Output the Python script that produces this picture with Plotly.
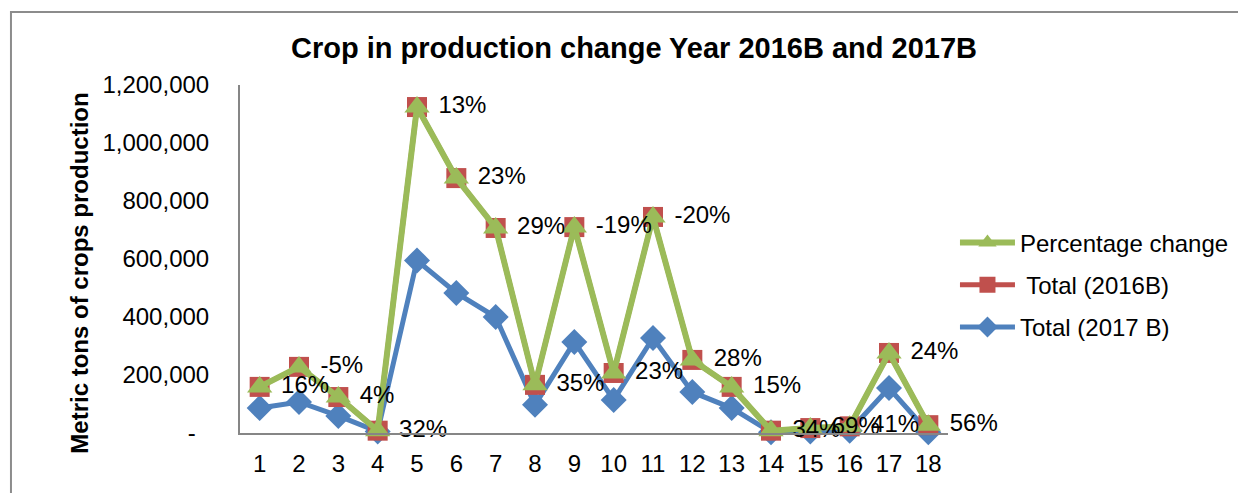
import numpy as np
import plotly.graph_objects as go

categories = [str(i) for i in range(1, 19)]
total_2017 = [86000, 107000, 59000, 5000, 595000, 483000, 400000, 97000, 314000,
              114000, 328000, 141000, 86000, 3000, 5000, 8000, 155000, 3000]
total_2016 = [73000, 121000, 65000, 3000, 529000, 396000, 307000, 69000, 396000,
              93000, 417000, 111000, 73000, 5000, 12000, 15000, 121000, 24000]
pct_change = [0.16, -0.05, 0.04, 0.32, 0.13, 0.23, 0.29, 0.35, -0.19, 0.23, -0.20,
              0.28, 0.15, 0.34, 0.69, 0.41, 0.24, 0.56]
pct_labels = ["\u00a0" + f"{round(p*100)}%" for p in pct_change]
ytick_vals = [0, 200000, 400000, 600000, 800000, 1000000, 1200000]
ytick_text = ["-\u00a0\u00a0", "200,000", "400,000", "600,000", "800,000", "1,000,000", "1,200,000"]

x = np.arange(1, 19)
s2017 = np.array(total_2017, dtype=float)
s2016 = s2017 + np.array(total_2016, dtype=float)
spct = s2016 + np.array(pct_change, dtype=float)

BLUE = "#4F81BD"
RED = "#C0504D"
GREEN = "#9BBB59"
FONT = "Liberation Sans, Arial, sans-serif"

fig = go.Figure()
fig.add_trace(go.Scatter(x=x, y=s2017, name="Total (2017 B)", mode="lines+markers",
                         line=dict(color=BLUE, width=5),
                         marker=dict(symbol="diamond", size=20, color=BLUE),
                         legendgroup="c", legendrank=3, cliponaxis=False))
fig.add_trace(go.Scatter(x=x, y=s2016, name=" Total (2016B)", mode="lines+markers",
                         line=dict(color=RED, width=5),
                         marker=dict(symbol="square", size=20, color=RED),
                         legendgroup="b", legendrank=2, cliponaxis=False))
fig.add_trace(go.Scatter(x=x, y=spct, name="Percentage change", mode="lines+markers+text",
                         line=dict(color=GREEN, width=6),
                         marker=dict(symbol="triangle-up", size=22, color=GREEN),
                         text=pct_labels, textposition="middle right",
                         textfont=dict(family=FONT, size=24, color="#000000"),
                         legendgroup="a", legendrank=1, cliponaxis=False))

# page has an 8px body margin; coordinates below are page coords minus 8
W, H = 1238, 485
L, T = 232, 77
axis_bottom = 425
plot_right = 943
R = W - plot_right
B = H - axis_bottom
pw = plot_right - L
ph = axis_bottom - T

fig.update_layout(
    width=W, height=H,
    margin=dict(l=L, r=R, t=T, b=B),
    paper_bgcolor="white", plot_bgcolor="white",
    font=dict(family=FONT, size=24, color="#000000"),
    showlegend=True,
    title=dict(text="<b>Crop in production change Year 2016B and 2017B</b>",
               font=dict(family=FONT, size=29, color="#000000"),
               x=626/W, xanchor="center", y=1-40/H, yanchor="middle"),
    legend=dict(x=(950-L)/pw, xanchor="left", y=(axis_bottom-277)/ph, yanchor="middle",
                tracegroupgap=8, font=dict(family=FONT, size=24),
                bgcolor="rgba(0,0,0,0)", itemwidth=55),
    xaxis=dict(range=[0.5, 18.5], tickvals=list(x), ticktext=categories,
               showgrid=False, zeroline=False, showline=True, linecolor="#868686",
               linewidth=2, ticks="", ticklabelstandoff=8,
               tickfont=dict(family=FONT, size=24)),
    yaxis=dict(range=[0, 1200000], tickvals=ytick_vals, ticktext=ytick_text,
               showgrid=False, zeroline=False, showline=True, linecolor="#868686",
               linewidth=2, ticks="", ticklabelstandoff=24,
               tickfont=dict(family=FONT, size=24)),
    annotations=[dict(text="<b>Metric tons of crops production</b>", textangle=-90,
                      xref="paper", yref="paper", x=(70-L)/pw, y=(axis_bottom-265)/ph,
                      xanchor="center", yanchor="middle", showarrow=False,
                      font=dict(family=FONT, size=24, color="#000000"))],
    shapes=[dict(type="rect", xref="paper", yref="paper",
                 x0=(2-L)/pw, x1=(W+20-L)/pw, y0=(axis_bottom-H-20)/ph, y1=(axis_bottom-4)/ph,
                 line=dict(color="#8C8C8C", width=2), fillcolor="rgba(0,0,0,0)",
                 layer="below")],
)

fig.write_html("out.html")
